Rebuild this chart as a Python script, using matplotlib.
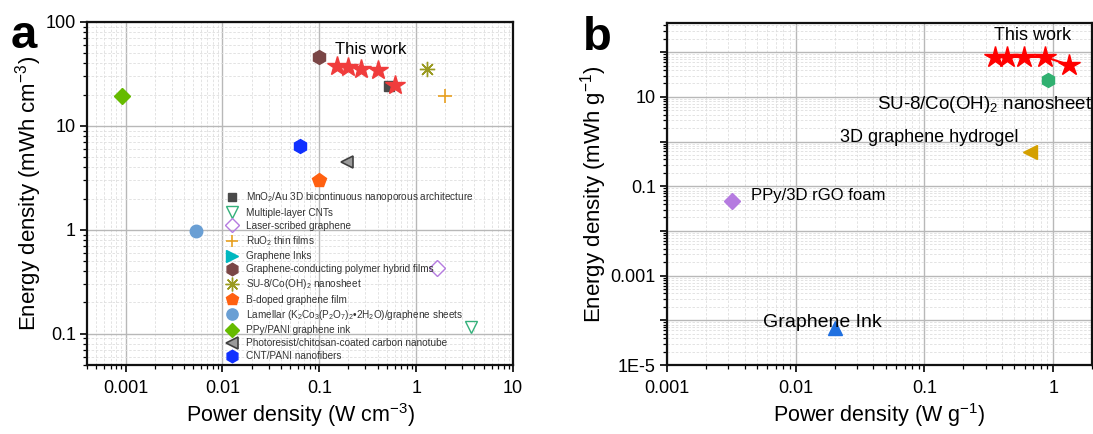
import matplotlib
matplotlib.use('Agg')
import matplotlib.pyplot as plt
from matplotlib.ticker import LogLocator, FuncFormatter, NullFormatter, FixedLocator

plt.rcParams['font.family'] = ['Liberation Sans', 'DejaVu Sans']
plt.rcParams['mathtext.fontset'] = 'custom'
plt.rcParams['mathtext.rm'] = 'Liberation Sans'
plt.rcParams['mathtext.it'] = 'Liberation Sans:italic'
plt.rcParams['mathtext.bf'] = 'Liberation Sans:bold'
plt.rcParams['axes.unicode_minus'] = False

# ---------------- Panel a data ----------------
a_names = [
    "MnO$\\mathregular{_2}$/Au 3D bicontinuous nanoporous architecture",
    "Multiple-layer CNTs",
    "Laser-scribed graphene",
    "RuO$\\mathregular{_2}$ thin films",
    "Graphene Inks",
    "Graphene-conducting polymer hybrid films",
    "SU-8/Co(OH)$\\mathregular{_2}$ nanosheet",
    "B-doped graphene film",
    "Lamellar (K$\\mathregular{_2}$Co$\\mathregular{_3}$(P$\\mathregular{_2}$O$\\mathregular{_7}$)$\\mathregular{_2}$\u20222H$\\mathregular{_2}$O)/graphene sheets",
    "PPy/PANI graphene ink",
    "Photoresist/chitosan-coated carbon nanotube",
    "CNT/PANI nanofibers",
]
a_x = [[0.53], [3.7], [1.65], [2.0], [], [0.1], [1.3], [0.1], [0.0054], [0.00091], [0.195], [0.064]]
a_y = [[24.0], [0.117], [0.43], [19.4], [], [46.0], [35.0], [3.0], [0.97], [19.5], [4.5], [6.4]]
a_this_x = [0.153, 0.20, 0.27, 0.40, 0.61]
a_this_y = [37.5, 37.0, 35.5, 34.5, 24.8]

# ---------------- Panel b data ----------------
b_this_x = [0.35, 0.44, 0.59, 0.86, 1.33]
b_this_y = [78, 78, 78, 78, 52]
b_names = ["SU-8/Co(OH)$\\mathregular{_2}$ nanosheet", "3D graphene hydrogel", "PPy/3D rGO foam", "Graphene Ink"]
b_x = [[0.91], [0.66], [0.0032], [0.020]]
b_y = [[24.0], [0.59], [0.047], [6.7e-5]]

# styles
a_styles = [
    dict(marker='s', mfc='#4a4a4a', mec='#4a4a4a', ms=7),
    dict(marker='v', mfc='none', mec='#33b07a', ms=9, mew=1.0),
    dict(marker='D', mfc='none', mec='#b57be0', ms=8, mew=1.0),
    dict(marker='+', mfc='#e8a020', mec='#e8a020', ms=10, mew=1.2),
    dict(marker='>', mfc='#00b8c0', mec='#00b8c0', ms=9),
    dict(marker='h', mfc='#7a4646', mec='#7a4646', ms=10),
    dict(marker=(8, 2, 0), mfc='#9a9a20', mec='#9a9a20', ms=11, mew=1.0),
    dict(marker='p', mfc='#ff6010', mec='#ff6010', ms=10),
    dict(marker='o', mfc='#6a9fd4', mec='#6a9fd4', ms=9),
    dict(marker='D', mfc='#66bb00', mec='#66bb00', ms=8),
    dict(marker='<', mfc='#9a9a9a', mec='#404040', ms=9, mew=1.2),
    dict(marker='h', mfc='#1030ff', mec='#1030ff', ms=10),
]
b_styles = [
    dict(marker='h', mfc='#30b070', mec='#30b070', ms=10),
    dict(marker='<', mfc='#d4a000', mec='#d4a000', ms=10),
    dict(marker='D', mfc='#b57be0', mec='#b57be0', ms=8),
    dict(marker='^', mfc='#2070e0', mec='#2070e0', ms=10),
]

W, H = 1093, 434
fig = plt.figure(figsize=(W / 100, H / 100), dpi=100)

def style_axes(ax):
    for s in ax.spines.values():
        s.set_linewidth(1.6)
        s.set_color('#111111')
    ax.tick_params(which='major', direction='out', length=5, width=1.2, labelsize=13, pad=6)
    ax.tick_params(which='minor', direction='out', length=3, width=0.9)
    ax.grid(which='major', color='#b8b8b8', lw=1.0, ls='-')
    ax.grid(which='minor', color='#dedede', lw=0.6, ls=(0, (3, 2)))
    ax.set_axisbelow(True)

# ---------------- Panel a ----------------
axa = fig.add_axes([87 / W, (H - 365) / H, 426 / W, 343 / H])
axa.set_xscale('log')
axa.set_yscale('log')
axa.set_xlim(4e-4, 10)
axa.set_ylim(0.05, 100)
style_axes(axa)
axa.xaxis.set_major_locator(FixedLocator([1e-3, 1e-2, 1e-1, 1, 10]))
axa.xaxis.set_major_formatter(FuncFormatter(lambda v, p: {1e-3: '0.001', 1e-2: '0.01', 1e-1: '0.1', 1: '1', 10: '10'}.get(v, '')))
axa.yaxis.set_major_locator(FixedLocator([0.1, 1, 10, 100]))
axa.yaxis.set_major_formatter(FuncFormatter(lambda v, p: {0.1: '0.1', 1: '1', 10: '10', 100: '100'}.get(v, '')))
axa.xaxis.set_minor_locator(LogLocator(base=10, subs=range(2, 10), numticks=20))
axa.yaxis.set_minor_locator(LogLocator(base=10, subs=range(2, 10), numticks=20))
axa.xaxis.set_minor_formatter(NullFormatter())
axa.yaxis.set_minor_formatter(NullFormatter())
axa.tick_params(axis='y', which='major', pad=3)

handles = []
for name, xs, ys, st in zip(a_names, a_x, a_y, a_styles):
    h, = axa.plot(xs, ys, ls='none', label=name, **st)
    handles.append(h)
axa.plot(a_this_x, a_this_y, ls='none', marker='*', ms=15, mfc='#f03c3c', mec='#f03c3c')
axa.text(0.146, 54, 'This work', fontsize=12, ha='left', va='center')

leg = axa.legend(handles=handles, loc='lower left', bbox_to_anchor=(0.31, -0.01), frameon=False,
                 fontsize=7.2, handlelength=1.2, handletextpad=0.8, labelspacing=0.32,
                 borderpad=0.2, markerscale=0.9, numpoints=1)
for t in leg.get_texts():
    t.set_color('#333333')

axa.set_xlabel('Power density (W cm$^{-3}$)', fontsize=15.5, labelpad=3)
axa.set_ylabel('Energy density (mWh cm$^{-3}$)', fontsize=16, labelpad=1)
fig.text(24 / W, 1 - 36 / H, 'a', fontsize=34, fontweight='bold', ha='center', va='center')

# ---------------- Panel b ----------------
axb = fig.add_axes([667 / W, (H - 365) / H, 425 / W, 342 / H])
axb.set_xscale('log')
axb.set_yscale('log')
axb.set_xlim(1e-3, 2)
axb.set_ylim(1e-5, 450)
style_axes(axb)
axb.xaxis.set_major_locator(FixedLocator([1e-3, 1e-2, 1e-1, 1]))
axb.xaxis.set_major_formatter(FuncFormatter(lambda v, p: {1e-3: '0.001', 1e-2: '0.01', 1e-1: '0.1', 1: '1'}.get(v, '')))
axb.yaxis.set_major_locator(FixedLocator([1e-5, 1e-4, 1e-3, 1e-2, 1e-1, 1, 10, 100]))
ylabels_b = {1e-5: '1E-5', 1e-3: '0.001', 1e-1: '0.1', 10: '10'}
axb.yaxis.set_major_formatter(FuncFormatter(lambda v, p: next((s for k, s in ylabels_b.items() if abs(v / k - 1) < 1e-6), '')))
axb.xaxis.set_minor_locator(LogLocator(base=10, subs=range(2, 10), numticks=20))
axb.yaxis.set_minor_locator(LogLocator(base=10, subs=range(2, 10), numticks=30))
axb.xaxis.set_minor_formatter(NullFormatter())
axb.yaxis.set_minor_formatter(NullFormatter())
axb.tick_params(axis='y', which='major', pad=3)

axb.plot(b_this_x, b_this_y, color='#ff0000', lw=1.5, marker='*', ms=16, mfc='#ff0000', mec='#ff0000')
for xs, ys, st in zip(b_x, b_y, b_styles):
    axb.plot(xs, ys, ls='none', **st)
axb.text(0.69, 240, 'This work', fontsize=13, ha='center', va='center')
axb.text(0.043, 6.6, b_names[0], fontsize=13.5, ha='left', va='center', clip_on=False)
axb.text(0.022, 1.21, b_names[1], fontsize=13, ha='left', va='center')
axb.text(0.0045, 0.061, b_names[2], fontsize=12, ha='left', va='center')
axb.text(0.0056, 8.8e-5, b_names[3], fontsize=14, ha='left', va='center')

axb.set_xlabel('Power density (W g$^{-1}$)', fontsize=15.5, labelpad=3)
axb.set_ylabel('Energy density (mWh g$^{-1}$)', fontsize=16, labelpad=1)
fig.text(597 / W, 1 - 38 / H, 'b', fontsize=34, fontweight='bold', ha='center', va='center')

fig.savefig('out.png', dpi=100)
